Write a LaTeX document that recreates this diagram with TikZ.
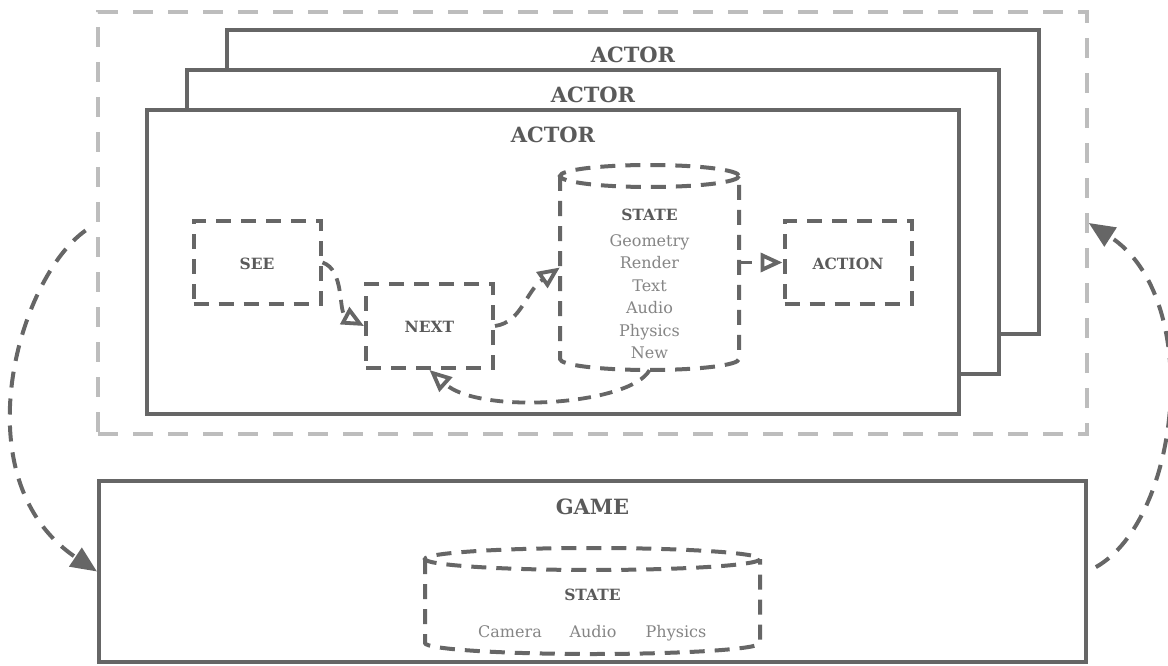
\documentclass[tikz,border=0pt]{standalone}
\usepackage{fontspec}
\setmainfont{DejaVu Serif}
\usetikzlibrary{arrows.meta}
\definecolor{ln}{HTML}{666666}
\definecolor{lt}{HTML}{BDBDBD}
\definecolor{tx}{HTML}{5A5A5A}
\definecolor{tl}{HTML}{858585}
\tikzset{
  solidbox/.style={draw=ln, line width=4pt, fill=white, inner sep=0pt},
  outerbox/.style={draw=lt, line width=3.5pt, dash pattern=on 20pt off 15pt, inner sep=0pt},
  dbox/.style={draw=ln, line width=4pt, dash pattern=on 15pt off 10pt, inner sep=0pt, minimum width=127pt, minimum height=83pt},
  title/.style={text=tx, anchor=base, inner sep=0pt, font=\fontsize{21}{25}\selectfont\bfseries},
  lbl/.style={text=tx, anchor=base, inner sep=0pt, font=\fontsize{15.5}{18}\selectfont\bfseries},
  item/.style={text=tl, anchor=base, inner sep=0pt, font=\fontsize{16}{19}\selectfont},
  flow/.style={draw=ln, line width=3.8pt, dash pattern=on 13pt off 9pt, -{Triangle[open,length=22pt,width=19pt]}},
  bigloop/.style={draw=ln, line width=4pt, dash pattern=on 16pt off 11pt, -{Triangle[length=26pt,width=22pt]}},
  cyl/.style={draw=ln, line width=4pt, dash pattern=on 15pt off 10pt},
  body/.style={inner sep=0pt},
}
\begin{document}
\begin{tikzpicture}[x=1pt,y=-1pt]
\useasboundingbox (0,0) rectangle (1168,666);
% outer dashed group
\node[outerbox, minimum width=989pt, minimum height=422pt] (outer) at (592.5,223) {};
% actor stack
\node[solidbox, minimum width=812pt, minimum height=304pt] (actor3) at (633,182) {};
\node[title] (t3) at (633,63) {ACTOR};
\node[solidbox, minimum width=812pt, minimum height=304pt] (actor2) at (593,222) {};
\node[title] (t2) at (593,103) {ACTOR};
\node[solidbox, minimum width=812pt, minimum height=304pt] (actor1) at (553,262) {};
\node[title] (t1) at (553,143) {ACTOR};
% inner boxes
\node[dbox] (see) at (257,262.5) {};
\node[lbl] (seet) at (257,269) {SEE};
\node[dbox, minimum height=84pt] (next) at (429.5,326) {};
\node[lbl] (nextt) at (429.5,332) {NEXT};
\node[dbox] (action) at (848,262.5) {};
\node[lbl] (actiont) at (848,269) {ACTION};
% actor state cylinder
\node[body, minimum width=179pt, minimum height=205pt] (st) at (649.5,267.5) {};
\draw[cyl] (649.5,176) ellipse [x radius=89.5, y radius=11];
\draw[cyl] (560,176) -- (560,359) .. controls (560,365.1) and (600.1,370) .. (649.5,370)
  .. controls (698.9,370) and (739,365.1) .. (739,359) -- (739,176);
\node[lbl] (stt) at (649.5,220) {STATE};
\node[item] (s1) at (649.5,246) {Geometry};
\node[item] (s2) at (649.5,268.5) {Render};
\node[item] (s3) at (649.5,291) {Text};
\node[item] (s4) at (649.5,313.5) {Audio};
\node[item] (s5) at (649.5,336) {Physics};
\node[item] (s6) at (649.5,358.5) {New};
% flows
\draw[flow] (see.east) .. controls (345,270) and (338,312) .. (next.west);
\draw[flow] (next.east) .. controls (522,322) and (525,292) .. (st.west);
\draw[flow] (st.east |- action.west) -- (action.west);
\draw[flow] (st.south) .. controls (630,405) and (480,415) .. (next.south);
% game
\node[solidbox, minimum width=987pt, minimum height=181pt] (game) at (592.5,571.5) {};
\node[title] (gt) at (592.5,514) {GAME};
\node[body, minimum width=335pt, minimum height=106pt] (gst) at (592.5,601) {};
\draw[cyl] (592.5,559) ellipse [x radius=167.5, y radius=11];
\draw[cyl] (425,559) -- (425,643) .. controls (425,649.1) and (500,654) .. (592.5,654)
  .. controls (685,654) and (760,649.1) .. (760,643) -- (760,559);
\node[lbl] (gstt) at (592.5,600.5) {STATE};
\node[item] (g1) at (510,637.5) {Camera};
\node[item] (g2) at (593,637.5) {Audio};
\node[item] (g3) at (676,637.5) {Physics};
% loops
\draw[bigloop, shorten <=13pt] (outer.west) .. controls (18,278) and (-40,480) .. (game.west);
\draw[bigloop, shorten <=9pt] (game.east) .. controls (1180,520) and (1205,298) .. (outer.east);
\end{tikzpicture}
\end{document}
